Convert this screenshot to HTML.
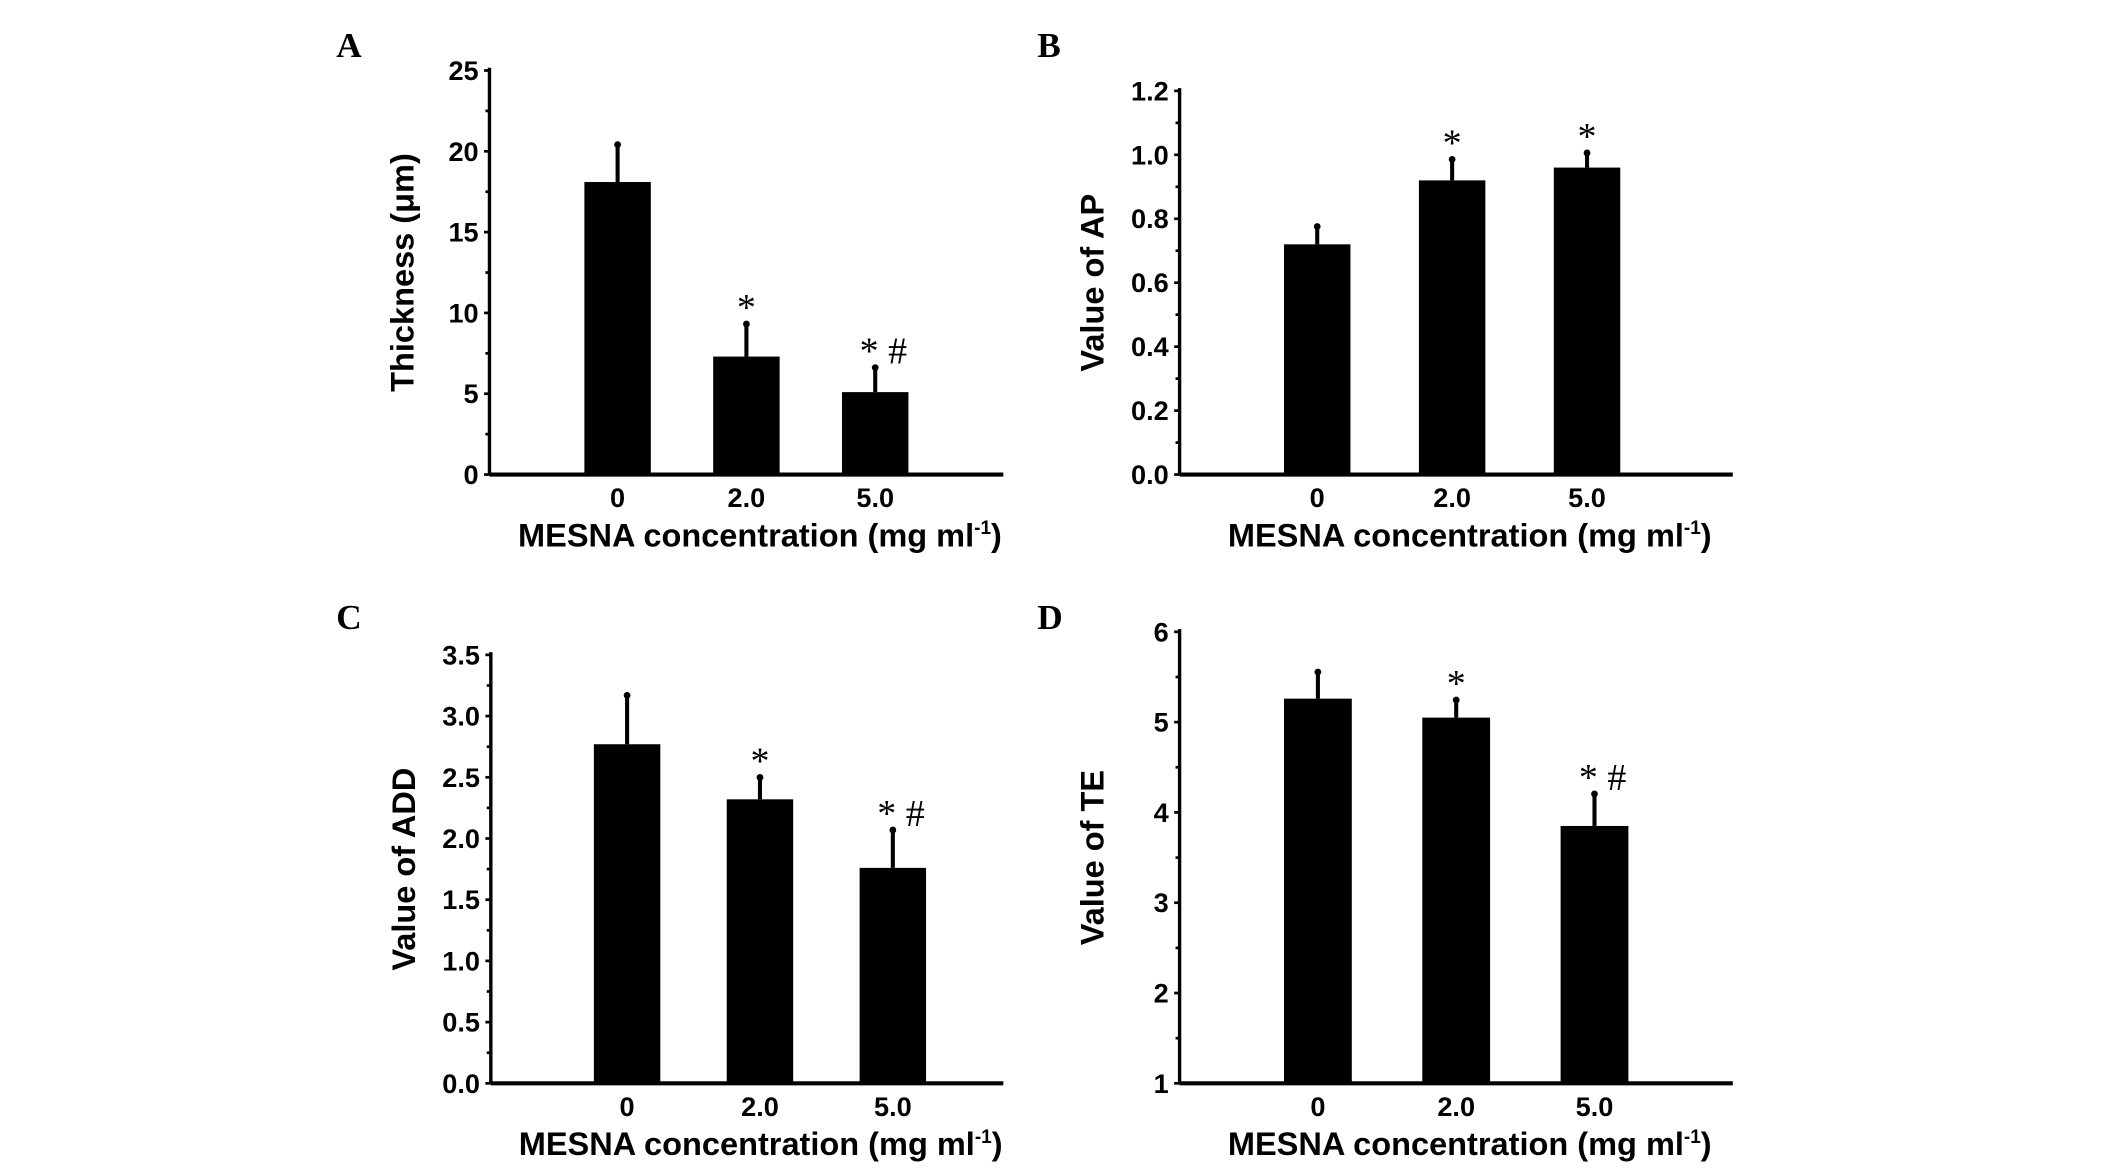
<!DOCTYPE html>
<html><head><meta charset="utf-8"><style>
html,body{margin:0;padding:0;background:#fff;}
svg{display:block;}
text{font-family:"Liberation Sans",Arial,sans-serif;fill:#000;}
.tick{font-size:20px;font-weight:bold;}
.title{font-size:24px;font-weight:bold;}
.letter{font-family:"Liberation Serif",serif;font-size:26px;font-weight:bold;}
.mark{font-family:"Liberation Serif",serif;font-size:28px;}
</style></head><body>
<svg id="fig" width="2126" height="1172" viewBox="0 0 1568 864.4" xmlns="http://www.w3.org/2000/svg"></svg>
<script>
const categories = ["0", "2.0", "5.0"];
const valuesA = [18.1, 7.3, 5.1];
const errorsA = [2.4, 2.1, 1.6];
const marksA = ["", "*", "* #"];
const ticksA = [0, 5, 10, 15, 20, 25];
const valuesB = [0.72, 0.92, 0.96];
const errorsB = [0.06, 0.07, 0.05];
const marksB = ["", "*", "*"];
const ticksB = [0.0, 0.2, 0.4, 0.6, 0.8, 1.0, 1.2];
const valuesC = [2.77, 2.32, 1.76];
const errorsC = [0.41, 0.19, 0.32];
const marksC = ["", "*", "* #"];
const ticksC = [0.0, 0.5, 1.0, 1.5, 2.0, 2.5, 3.0, 3.5];
const valuesD = [5.26, 5.05, 3.85];
const errorsD = [0.31, 0.21, 0.37];
const marksD = ["", "*", "* #"];
const ticksD = [1, 2, 3, 4, 5, 6];

const svg = document.getElementById('fig');
const NS = 'http://www.w3.org/2000/svg';
function mk(tag, attrs, parent){
  const e = document.createElementNS(NS, tag);
  for (const k in attrs) e.setAttribute(k, attrs[k]);
  (parent||svg).appendChild(e);
  return e;
}
function panel(cfg){
  const g = mk('g', {});
  
  
  const tmin = cfg.ticks[0], tmax = cfg.ticks[cfg.ticks.length-1];
  const y = v => cfg.y0 + (v - tmin) / (tmax - tmin) * (cfg.y1 - cfg.y0);
  const x = i => cfg.bx0 + i * cfg.step;
  const L = mk('text', {x: cfg.lx, y: cfg.ly, class: 'letter'}, g);
  L.textContent = cfg.letter;
  
  
  const ya = mk('line', {x1: cfg.ax, y1: cfg.y1 - 2, x2: cfg.ax, y2: cfg.y0, stroke: '#000', 'stroke-width': 2.5}, g);
  
  
  const xa = mk('line', {x1: cfg.ax, y1: cfg.y0, x2: cfg.xr, y2: cfg.y0, stroke: '#000', 'stroke-width': 3}, g);
  
  
  cfg.ticks.forEach((t, i) => {
    mk('line', {x1: cfg.ax - 4, y1: y(t), x2: cfg.ax, y2: y(t), stroke: '#000', 'stroke-width': 2}, g);
    if (i < cfg.ticks.length - 1) {
      const m = (t + cfg.ticks[i+1]) / 2;
      mk('line', {x1: cfg.ax - 3, y1: y(m), x2: cfg.ax, y2: y(m), stroke: '#000', 'stroke-width': 2}, g);
    }
    const tl = mk('text', {x: cfg.ax - 8, y: y(t) + 7, class: 'tick', 'text-anchor': 'end'}, g);
    tl.textContent = cfg.fmt(t);
    
    
  });
  const yt = mk('text', {x: 0, y: 0, class: 'title', 'text-anchor': 'middle', transform: `translate(${cfg.ax - 56},${(cfg.y0 + cfg.y1) / 2}) rotate(-90)`}, g);
  yt.textContent = cfg.ytitle;
  
  
  cfg.values.forEach((v, i) => {
    const cx = x(i) + cfg.bw / 2;
    const top = y(v + cfg.errors[i]);
    const el = mk('line', {x1: cx, y1: y(v), x2: cx, y2: top, stroke: '#000', 'stroke-width': 3}, g);
    
    
    mk('circle', {cx: cx, cy: top + 1, r: 2.5, fill: '#000'}, g);
    const b = mk('rect', {x: x(i), y: y(v), width: cfg.bw, height: cfg.y0 - y(v), fill: '#000'}, g);
    
    
    if (cfg.marks[i]) {
      const mt = mk('text', {x: cx + (cfg.marks[i].length > 1 ? 6 : 0), y: top - 2, class: 'mark', 'text-anchor': 'middle'}, g);
      mt.textContent = cfg.marks[i];
      
      
    }
    const xl = mk('text', {x: cx, y: cfg.y0 + 24, class: 'tick', 'text-anchor': 'middle'}, g);
    xl.textContent = categories[i];
    
    
  });
  const xt = mk('text', {x: (cfg.ax + cfg.xr) / 2 + 10, y: cfg.y0 + 53, class: 'title', 'text-anchor': 'middle'}, g);
  xt.innerHTML = 'MESNA concentration (mg ml<tspan dy="-9" font-size="14">-1</tspan><tspan dy="9">)</tspan>';
  
  
}
const f0 = t => String(t), f1 = t => t.toFixed(1);
panel({letter:'A', lx:248, ly:42, ax:361, xr:740, y0:350, y1:52, bx0:431, step:95, bw:49, ticks:ticksA, values:valuesA, errors:errorsA, marks:marksA, fmt:f0, ytitle:'Thickness (μm)'});
panel({letter:'B', lx:765, ly:42, ax:870, xr:1278, y0:350, y1:67, bx0:947, step:99.5, bw:49, ticks:ticksB, values:valuesB, errors:errorsB, marks:marksB, fmt:f1, ytitle:'Value of AP'});
panel({letter:'C', lx:248, ly:464, ax:362, xr:740, y0:799, y1:483, bx0:438, step:98, bw:49, ticks:ticksC, values:valuesC, errors:errorsC, marks:marksC, fmt:f1, ytitle:'Value of ADD'});
panel({letter:'D', lx:765, ly:464, ax:870, xr:1278, y0:799, y1:466, bx0:947, step:102, bw:50, ticks:ticksD, values:valuesD, errors:errorsD, marks:marksD, fmt:f0, ytitle:'Value of TE'});
</script>
</body></html>
